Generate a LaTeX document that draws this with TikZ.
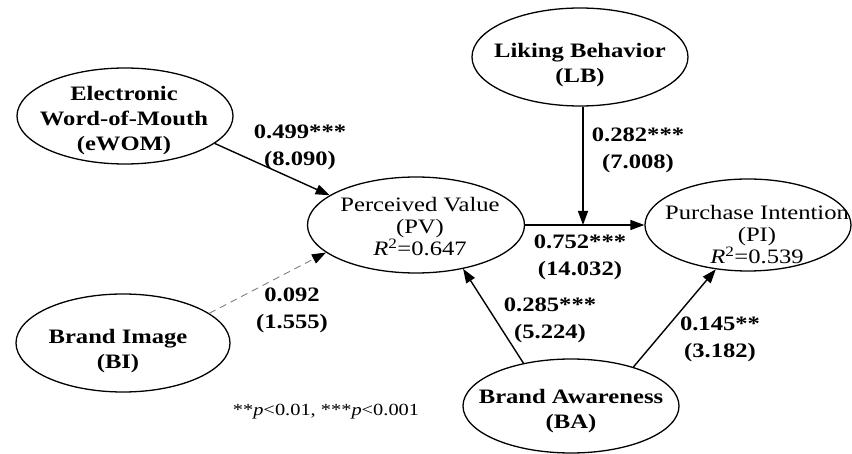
\documentclass[tikz,border=0pt]{standalone}
\usepackage{fontspec}
\setmainfont[FakeStretch=1.2]{Liberation Serif}
\usetikzlibrary{shapes.geometric,arrows.meta}
\begin{document}
\begin{tikzpicture}[x=1pt,y=1pt,
  ell/.style={draw, ellipse, line width=1.3pt, inner sep=0pt},
  nbold/.style={font=\fontsize{20.5}{25}\selectfont\bfseries, align=center, inner sep=0pt},
  nreg/.style={font=\fontsize{20.5}{22}\selectfont, align=center, inner sep=0pt},
  elab/.style={font=\fontsize{20.5}{27}\selectfont\bfseries, align=center, inner sep=0pt},
  arr/.style={line width=1.4pt, -{Triangle[length=14pt,width=10pt]}},
  dasharr/.style={line width=0.9pt, gray, dash pattern=on 7pt off 5pt, -{Triangle[length=14pt,width=10pt,color=black]}},
]
\useasboundingbox (0,0) rectangle (852,453);
\fill[white] (0,0) rectangle (852,453);

% ellipses
\node[ell, minimum width=216, minimum height=96] (ewom) at (125,337) {};
\node[ell, minimum width=216, minimum height=98] (lb) at (580,396) {};
\node[ell, minimum width=217, minimum height=96] (pv) at (416,228) {};
\node[ell, minimum width=206, minimum height=92] (pi) at (748,228) {};
\node[ell, minimum width=214, minimum height=98] (bi) at (123,110) {};
\node[ell, minimum width=216, minimum height=94] (ba) at (571,47) {};

% texts
\node[nbold] (ewomt) at (124,332) {Electronic\\Word-of-Mouth\\(eWOM)};
\node[nbold] (lbt) at (580,388) {Liking Behavior\\(LB)};
\node[nreg] (pvt) at (420,226) {Perceived Value\\(PV)\\\textit{R}\textsuperscript{2}=0.647};
\node[nreg] (pit) at (757,218) {Purchase Intention\\(PI)\\\textit{R}\textsuperscript{2}=0.539};
\node[nbold] (bit) at (118,102) {Brand Image\\(BI)};
\node[nbold] (bat) at (571,42) {Brand Awareness\\(BA)};

% connectors
\coordinate (meet) at (583,228);
\draw[arr] (ewom.-17) -- (pv.161);
\draw[dasharr] (bi.19) -- (pv.197);
\draw[arr] (ba.138) -- (pv.-43);
\draw[arr] (ba.32) -- (pi.234);
\draw[arr] (pv.east) -- (pi.west);
\draw[arr] (lb.south -| meet) -- (meet);

% edge labels
\node[elab] (l1) at (300,306) {0.499***\\(8.090)};
\node[elab] (l2) at (638,303) {0.282***\\(7.008)};
\node[elab] (l3) at (580,196) {0.752***\\(14.032)};
\node[elab] (l4) at (292,143) {0.092\\(1.555)};
\node[elab] (l5) at (550,133) {0.285***\\(5.224)};
\node[elab] (l6) at (720,114) {0.145**\\(3.182)};

% legend
\node[font=\fontsize{17}{18}\selectfont, inner sep=0pt] (legend) at (326,41) {**\textit{p}<0.01, ***\textit{p}<0.001};
\end{tikzpicture}
\end{document}
